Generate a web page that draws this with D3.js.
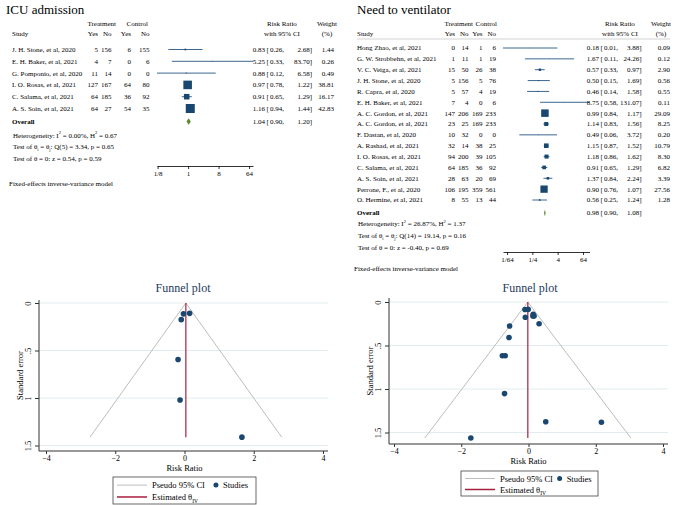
<!DOCTYPE html>
<html><head><meta charset="utf-8">
<script src="https://cdn.jsdelivr.net/npm/d3@7"></script>
<style>body{margin:0;background:#fff}svg{display:block}</style>
</head><body>
<script>
// ---------------- DATA ----------------
// ICU admission
const icuStudies = ["J. H. Stone, et al, 2020","E. H. Baker, et al, 2021","G. Pomponio, et al, 2020","I. O. Rosas, et al, 2021","C. Salama, et al, 2021","A. S. Soin, et al, 2021"];
const icuTYes = [5,4,11,127,64,64];
const icuTNo  = [156,7,14,167,185,27];
const icuCYes = [6,0,0,64,36,54];
const icuCNo  = [155,6,0,80,92,35];
const icuRR   = [0.83,5.25,0.88,0.97,0.91,1.16];
const icuLo   = [0.26,0.33,0.12,0.78,0.65,0.94];
const icuHi   = [2.68,83.70,6.58,1.22,1.29,1.44];
const icuW    = [1.44,0.26,0.49,38.81,16.17,42.83];
const icuOverall = [1.04,0.90,1.20];
const icuTicks = [1/8,1,8,64];
const icuTickLabels = ["1/8","1","8","64"];
const icuHet = {I2:"0.00%", H2:"0.67", Q:"Q(5) = 3.34, p = 0.65", Z:"z = 0.54, p = 0.59"};
// funnel (log RR, standard error)
const icuLogRR = [-0.186,1.658,-0.128,-0.030,-0.094,0.148];
const icuSE    = [0.595,1.412,1.021,0.114,0.175,0.109];
const icuTheta = 0.039;

// Need to ventilator
const venStudies = ["Hong Zhao, et al, 2021","G. W. Strobbehn, et al, 2021","V. C. Veiga, et al, 2021","J. H. Stone, et al, 2020","R. Capra, et al, 2020","E. H. Baker, et al, 2021","A. C. Gordon, et al, 2021","A. C. Gordon, et al, 2021","F. Dastan, et al, 2020","A. Rashad, et al, 2021","I. O. Rosas, et al, 2021","C. Salama, et al, 2021","A. S. Soin, et al, 2021","Perrone, F., et al, 2020","O. Hermine, et al, 2021"];
const venTYes = [0,1,15,5,5,7,147,23,10,32,94,64,28,106,8];
const venTNo  = [14,11,50,156,57,4,206,25,32,14,200,185,63,195,55];
const venCYes = [1,1,26,5,4,0,169,169,0,38,39,36,20,359,13];
const venCNo  = [6,19,38,76,19,6,233,233,0,25,105,92,69,561,44];
const venRR   = [0.18,1.67,0.57,0.50,0.46,8.75,0.99,1.14,0.49,1.15,1.18,0.91,1.37,0.90,0.56];
const venLo   = [0.01,0.11,0.33,0.15,0.14,0.58,0.84,0.83,0.06,0.87,0.86,0.65,0.84,0.76,0.25];
const venHi   = [3.88,24.26,0.97,1.69,1.58,131.07,1.17,1.56,3.72,1.52,1.62,1.29,2.24,1.07,1.24];
const venW    = [0.09,0.12,2.90,0.56,0.55,0.11,29.09,8.25,0.20,10.79,8.30,6.82,3.39,27.56,1.28];
const venOverall = [0.98,0.90,1.08];
const venTicks = [1/64,1/4,4,64];
const venTickLabels = ["1/64","1/4","4","64"];
const venHet = {I2:"26.87%", H2:"1.37", Q:"Q(14) = 19.14, p = 0.16", Z:"z = -0.40, p = 0.69"};
const venLogRR = [-1.715,0.513,-0.562,-0.693,-0.777,2.169,-0.010,0.131,-0.713,0.140,0.166,-0.094,0.315,-0.105,-0.580];
const venSE    = [1.563,1.377,0.275,0.618,0.618,1.383,0.085,0.161,1.053,0.142,0.162,0.175,0.250,0.087,0.408];
const venTheta = -0.020;

const funnelXTicks = [-4,-2,0,2,4];
const funnelYTicks = [0,0.5,1,1.5];
const funnelYLabels = ["0",".5","1","1.5"];

// ---------------- DRAW ----------------
const FONT = "'Liberation Serif','Times New Roman',serif";
const NAVY = "#1a476f";
const svg = d3.select("body").append("svg").attr("width",685).attr("height",505)
  .style("font-family",FONT);

function rich(g, x, y, parts, size, anchor){
  const t = g.append("text").attr("x",x).attr("y",y).attr("font-size",size)
    .attr("text-anchor",anchor||"start");
  let shift = 0;
  parts.forEach(p=>{
    const [txt, kind] = p;
    const target = kind==="sup" ? -size*0.45 : kind==="sub" ? size*0.3 : 0;
    const ts = t.append("tspan").text(txt).attr("dy", target - shift);
    if (kind) ts.attr("font-size", size*0.65);
    shift = target;
  });
  return t;
}

function forest(o){
  const g = svg.append("g");
  const fs = 7;
  g.append("text").attr("x",o.titleX).attr("y",14).attr("font-size",13).text(o.title);
  // headers
  const h1 = 25.5, h2 = 35.5;
  g.append("text").attr("x",o.nameX).attr("y",h2).attr("font-size",fs).text("Study");
  g.append("text").attr("x",(o.cols[0]+o.cols[1])/2-3).attr("y",h1).attr("font-size",fs).attr("text-anchor","middle").text("Treatment");
  g.append("text").attr("x",(o.cols[2]+o.cols[3])/2-3).attr("y",h1).attr("font-size",fs).attr("text-anchor","middle").text("Control");
  ["Yes","No","Yes","No"].forEach((s,i)=>g.append("text").attr("x",o.cols[i]).attr("y",h2).attr("font-size",fs).attr("text-anchor","end").text(s));
  g.append("text").attr("x",o.rrHeadX).attr("y",h1).attr("font-size",fs).attr("text-anchor","middle").text("Risk Ratio");
  g.append("text").attr("x",o.rrHeadX).attr("y",h2).attr("font-size",fs).attr("text-anchor","middle").text("with 95% CI");
  g.append("text").attr("x",o.wHeadX).attr("y",h1).attr("font-size",fs).attr("text-anchor","middle").text("Weight");
  g.append("text").attr("x",o.wHeadX).attr("y",h2).attr("font-size",fs).attr("text-anchor","middle").text("(%)");
  if (o.headLine) g.append("line").attr("x1",o.nameX).attr("x2",o.wCol).attr("y1",39).attr("y2",39).attr("stroke","#c8c8c8").attr("stroke-width",0.8);

  const x = d3.scaleLog().base(2).domain([d3.min(o.lo), d3.max(o.hi)]).range(o.xRange);
  const n = o.studies.length;
  const y = d3.scaleLinear().domain([0,n-1]).range(o.yRange);
  const maxW = d3.max(o.w);
  const fmt = d3.format(".2f");
  const cols = [o.tY,o.tN,o.cY,o.cN];
  o.studies.forEach((s,i)=>{
    const yy = y(i);
    const by = yy+2.4;
    g.append("text").attr("x",o.nameX).attr("y",by).attr("font-size",fs).text(s);
    cols.forEach((arr,c)=>g.append("text").attr("x",o.cols[c]).attr("y",by).attr("font-size",fs).attr("text-anchor","end").text(arr[i]));
    // CI line
    g.append("line").attr("x1",x(o.lo[i])).attr("x2",x(o.hi[i])).attr("y1",yy).attr("y2",yy)
      .attr("stroke","#3d6890").attr("stroke-width",1);
    const side = o.maxSide*Math.sqrt(o.w[i]/maxW);
    g.append("rect").attr("x",x(o.rr[i])-side/2).attr("y",yy-side/2).attr("width",side).attr("height",side).attr("fill",NAVY);
    // values
    g.append("text").attr("x",o.v1).attr("y",by).attr("font-size",fs).attr("text-anchor","end").text(fmt(o.rr[i]));
    g.append("text").attr("x",o.v1+1.5).attr("y",by).attr("font-size",fs).text("[");
    g.append("text").attr("x",o.v2).attr("y",by).attr("font-size",fs).attr("text-anchor","end").text(fmt(o.lo[i])+",");
    g.append("text").attr("x",o.v3).attr("y",by).attr("font-size",fs).attr("text-anchor","end").text(fmt(o.hi[i])+"]");
    g.append("text").attr("x",o.wCol).attr("y",by).attr("font-size",fs).attr("text-anchor","end").text(fmt(o.w[i]));
  });
  // overall
  const oy = o.overallY, oby = oy+2.4;
  g.append("text").attr("x",o.nameX).attr("y",oby).attr("font-size",fs).attr("font-weight","bold").text("Overall");
  const [orr,olo,ohi] = o.overall;
  const dh = 3.3;
  g.append("path").attr("d",`M${x(olo)},${oy} L${x(orr)},${oy-dh} L${x(ohi)},${oy} L${x(orr)},${oy+dh} Z`).attr("fill","#5a8a32");
  g.append("text").attr("x",o.v1).attr("y",oby).attr("font-size",fs).attr("text-anchor","end").text(fmt(orr));
  g.append("text").attr("x",o.v1+1.5).attr("y",oby).attr("font-size",fs).text("[");
  g.append("text").attr("x",o.v2).attr("y",oby).attr("font-size",fs).attr("text-anchor","end").text(fmt(olo)+",");
  g.append("text").attr("x",o.v3).attr("y",oby).attr("font-size",fs).attr("text-anchor","end").text(fmt(ohi)+"]");
  // heterogeneity
  const hx = o.nameX+1;
  rich(g,hx,o.hetY,[["Heterogeneity: I"],["2","sup"],[" = "+o.het.I2+", H"],["2","sup"],[" = "+o.het.H2]],fs);
  rich(g,hx,o.hetY+11.8,[["Test of θ"],["i","sub"],[" = θ"],["j","sub"],[": "+o.het.Q]],fs);
  rich(g,hx,o.hetY+23.6,[["Test of θ = 0: "+o.het.Z]],fs);
  g.append("text").attr("x",o.nameX-3).attr("y",o.fixedY).attr("font-size",fs).text("Fixed-effects inverse-variance model");
  // axis
  const ax = d3.axisBottom(x).tickValues(o.ticks).tickFormat((d,i)=>o.tickLabels[i]).tickSize(3).tickSizeOuter(0).tickPadding(2);
  const ag = g.append("g").attr("transform",`translate(0,${o.axisY})`).call(ax);
  ag.selectAll("text").attr("font-size",fs).attr("font-family",FONT).attr("fill","#000");
  ag.selectAll("line,path").attr("stroke","#000").attr("stroke-width",0.8);
}

forest({title:"ICU admission", titleX:6, nameX:12,
  studies:icuStudies, tY:icuTYes, tN:icuTNo, cY:icuCYes, cN:icuCNo,
  rr:icuRR, lo:icuLo, hi:icuHi, w:icuW, overall:icuOverall,
  cols:[98,111.5,131,149.5], xRange:[157,253], yRange:[49.5,108.5], overallY:121.5,
  maxSide:9, v1:265, v2:284, v3:312, wCol:334, rrHeadX:282, wHeadX:327,
  het:icuHet, hetY:137.5, fixedY:186, axisY:166, ticks:icuTicks, tickLabels:icuTickLabels, headLine:false});

forest({title:"Need to ventilator", titleX:357, nameX:357,
  studies:venStudies, tY:venTYes, tN:venTNo, cY:venCYes, cN:venCNo,
  rr:venRR, lo:venLo, hi:venHi, w:venW, overall:venOverall,
  cols:[455,468.5,482.5,496], xRange:[503,589.5], yRange:[48,200], overallY:213,
  maxSide:7.5, v1:599, v2:618, v3:641.5, wCol:670, rrHeadX:620, wHeadX:661,
  het:venHet, hetY:226, fixedY:270.5, axisY:252, ticks:venTicks, tickLabels:venTickLabels, headLine:true});

function funnel(o){
  const g = svg.append("g");
  const x = d3.scaleLinear().domain([-4,4]).range(o.xr);
  const y = d3.scaleLinear().domain([0,1.5]).range(o.yr);
  g.append("text").attr("x",o.titleX).attr("y",292).attr("font-size",12).attr("text-anchor","middle").attr("fill","#26395e").text("Funnel plot");
  // gridlines
  funnelYTicks.forEach(t=>g.append("line").attr("x1",o.left).attr("x2",o.right).attr("y1",y(t)).attr("y2",y(t)).attr("stroke","#e2ecef").attr("stroke-width",1));
  // axes
  const ay = d3.axisLeft(y).tickValues(funnelYTicks).tickFormat((d,i)=>funnelYLabels[i]).tickSize(4).tickSizeOuter(0).tickPadding(3);
  const gy = g.append("g").attr("transform",`translate(${o.left},0)`).call(ay);
  gy.select(".domain").attr("d",`M0,${o.top}V${o.bottom}`);
  gy.selectAll("text").attr("transform","rotate(-90)").attr("x",0).attr("y",-8).attr("dy",0).attr("text-anchor","middle");
  const ax = d3.axisBottom(x).tickValues(funnelXTicks).tickSize(3).tickSizeOuter(0).tickPadding(1);
  const gx = g.append("g").attr("transform",`translate(0,${o.bottom})`).call(ax);
  gx.select(".domain").attr("d",`M${o.left},0H${o.right}`);
  gy.selectAll("text").attr("font-size",8.5);
  gx.selectAll("text").attr("font-size",8);
  [gx,gy].forEach(a=>{a.selectAll("text").attr("font-family",FONT).attr("fill","#000");
    a.selectAll("line,path").attr("stroke","#333").attr("stroke-width",1);});
  g.append("text").attr("x",x(0)).attr("y",o.bottom+19.5).attr("font-size",8.5).attr("text-anchor","middle").text("Risk Ratio");
  g.append("text").attr("transform",`translate(${o.left-16},${(o.top+o.bottom)/2}) rotate(-90)`).attr("font-size",8.5).attr("text-anchor","middle").text("Standard error");
  // funnel
  const seMax = d3.max(o.se);
  g.append("path").attr("d",`M${x(o.theta-1.96*seMax)},${y(seMax)}L${x(o.theta)},${y(0)}L${x(o.theta+1.96*seMax)},${y(seMax)}`)
    .attr("fill","none").attr("stroke","#bdbdbd").attr("stroke-width",1);
  g.append("line").attr("x1",x(o.theta)).attr("x2",x(o.theta)).attr("y1",y(0)).attr("y2",y(seMax)).attr("stroke","#a8203f").attr("stroke-width",1.2);
  o.lr.forEach((v,i)=>g.append("circle").attr("cx",x(v)).attr("cy",y(o.se[i])).attr("r",2.8).attr("fill",NAVY));
  // legend
  const L = o.leg;
  g.append("rect").attr("x",L.x).attr("y",L.y).attr("width",L.w).attr("height",L.h).attr("fill","#fff").attr("stroke","#444").attr("stroke-width",0.8);
  const r1 = L.y+L.h*0.3, r2 = L.y+L.h*0.74;
  g.append("line").attr("x1",L.x+4).attr("x2",L.x+34).attr("y1",r1).attr("y2",r1).attr("stroke","#bdbdbd");
  g.append("text").attr("x",L.x+39).attr("y",r1+3).attr("font-size",8.5).text("Pseudo 95% CI");
  g.append("circle").attr("cx",L.x+L.w*0.72).attr("cy",r1).attr("r",2.5).attr("fill",NAVY);
  g.append("text").attr("x",L.x+L.w*0.72+7).attr("y",r1+3).attr("font-size",8.5).text("Studies");
  g.append("line").attr("x1",L.x+4).attr("x2",L.x+34).attr("y1",r2).attr("y2",r2).attr("stroke","#a8203f").attr("stroke-width",1.5);
  rich(g,L.x+39,r2+3,[["Estimated θ"],["IV","sub"]],8.5);
}

funnel({xr:[46,323], yr:[303,445.5], left:39, right:328, top:300, bottom:451, titleX:183,
  lr:icuLogRR, se:icuSE, theta:icuTheta, leg:{x:113,y:477,w:143,h:27}});
funnel({xr:[394,663], yr:[302,432.5], left:389, right:668, top:298, bottom:444, titleX:530,
  lr:venLogRR, se:venSE, theta:venTheta, leg:{x:461,y:471,w:137,h:25}});
</script>
</body></html>
